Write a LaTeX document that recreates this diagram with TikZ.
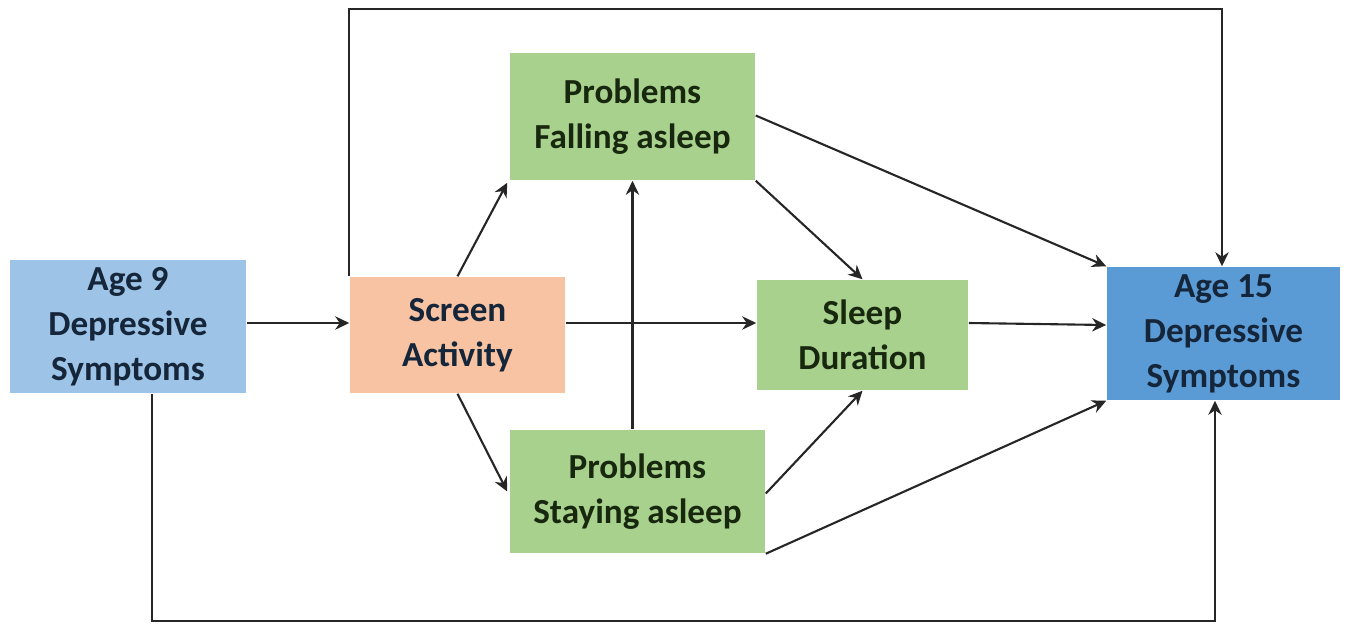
\documentclass[tikz,border=0pt]{standalone}
\usepackage{fontspec}
\setmainfont{Carlito}
\usetikzlibrary{arrows.meta,positioning}

\definecolor{agelight}{HTML}{9DC3E6}
\definecolor{agedark}{HTML}{5B9BD5}
\definecolor{screencol}{HTML}{F7C3A2}
\definecolor{sleepcol}{HTML}{A9D18E}
\definecolor{txtblue}{HTML}{15253A}
\definecolor{txtgreen}{HTML}{17280F}

\tikzset{
  box/.style={rectangle, inner sep=0pt, align=center, font=\bfseries\fontsize{10}{12.8}\selectfont},
  agebox/.style={box, fill=agelight, text=txtblue},
  agebox15/.style={box, fill=agedark, text=txtblue},
  screenbox/.style={box, fill=screencol, text=txtblue},
  sleepbox/.style={box, fill=sleepcol, text=txtgreen},
  link/.style={-{Stealth[length=4pt,width=3.8pt]}, line width=0.6pt, black!85}
}

\begin{document}
\begin{tikzpicture}[x=0.01cm,y=-0.01cm]
  \useasboundingbox (0,0) rectangle (1347,623);

  % Boxes
  \node[agebox, minimum width=2.36cm, minimum height=1.33cm] (a9) at (128,326.5) {Age 9\\Depressive\\Symptoms};
  \node[screenbox, minimum width=2.15cm, minimum height=1.16cm] (scr) at (457.5,335) {Screen\\Activity};
  \node[sleepbox, minimum width=2.45cm, minimum height=1.27cm] (pfa) at (632.5,116.5) {Problems\\Falling asleep};
  \node[sleepbox, minimum width=2.11cm, minimum height=1.10cm] (dur) at (862.5,335) {Sleep\\Duration};
  \node[sleepbox, minimum width=2.55cm, minimum height=1.23cm] (psa) at (637.5,491.5) {Problems\\Staying asleep};
  \node[agebox15, minimum width=2.33cm, minimum height=1.33cm] (a15) at (1223.5,333.5) {Age 15\\Depressive\\Symptoms};

  % Paths through the mediators
  \draw[link] ([yshift=0.035cm]a9.east) -- ([yshift=0.035cm]a9.east -| scr.west);
  \draw[link] (scr.north) -- ([shift={(-2,2)}]pfa.south west);
  \draw[link] (scr.south) -- ([xshift=-0.02cm]psa.west);
  \draw[link] ([yshift=0.12cm]scr.east) -- ([yshift=0.12cm]dur.west);
  \draw[link] (pfa.south |- psa.north) -- (pfa.south);
  \draw[link] (pfa.south east) -- (dur.north);
  \draw[link] ([yshift=-0.02cm]psa.east) -- (dur.south);
  \draw[link] ([yshift=0.01cm]pfa.east) -- (a15.north west);
  \draw[link] ([yshift=0.12cm]dur.east) -- ([yshift=0.085cm]a15.west);
  \draw[link] (psa.south east) -- (a15.south west);

  % Direct paths
  \draw[link] (scr.north west) -- ++(0,-267) -| ([xshift=-0.015cm]a15.north);
  \draw[link] ([xshift=0.24cm]a9.south) -- ++(0,227) -| ([xshift=-0.085cm]a15.south);
\end{tikzpicture}
\end{document}
